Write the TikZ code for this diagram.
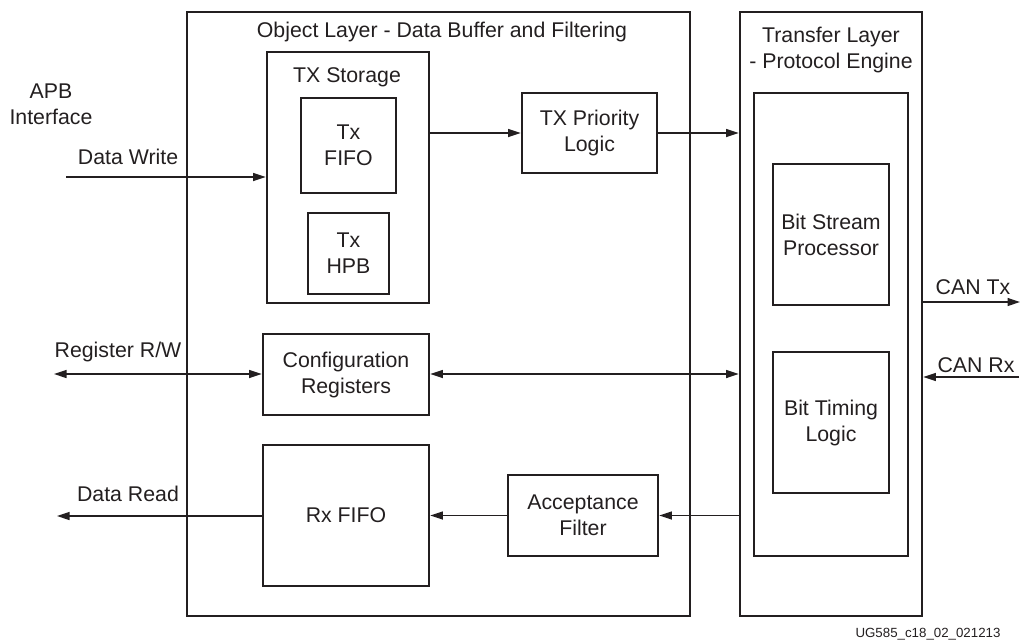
\documentclass[tikz,border=0pt]{standalone}
\usepackage{fontspec}
\setmainfont{Liberation Sans}
\usetikzlibrary{arrows.meta}
\definecolor{ink}{HTML}{231F20}
\begin{document}
\begin{tikzpicture}[x=1pt,y=-1pt,
  box/.style={draw=ink,line width=2.6pt,inner sep=0pt,align=center,text=ink},
  lbl/.style={inner sep=0pt,align=center,text=ink},
  conn/.style={draw=ink,line width=1.25pt},
  tip/.style={-{Triangle[length=12.5pt,width=8pt]}},
  tips/.style={{Triangle[length=12.5pt,width=8pt]}-{Triangle[length=12.5pt,width=8pt]}},
  every node/.style={font=\fontsize{21.3}{26}\selectfont}]
\useasboundingbox (0,0) rectangle (1021,641);
% containers
\node[box,minimum width=503pt,minimum height=604pt] (obj) at (438.5,314) {};
\node[box,minimum width=182pt,minimum height=604pt] (trans) at (831,314) {};
\node[box,minimum width=154pt,minimum height=463pt] (pe) at (831,324.5) {};
\node[box,minimum width=162pt,minimum height=251pt] (txs) at (348,177.5) {};
% titles
\node[lbl] (objt) at (442,32) {Object Layer - Data Buffer and Filtering};
\node[lbl] (transt) at (831,50) {Transfer Layer\\- Protocol Engine};
\node[lbl] (txst) at (347,77) {TX Storage};
% blocks
\node[box,minimum width=95pt,minimum height=95pt] (txfifo) at (348.5,145.5) {Tx\\FIFO};
\node[box,minimum width=81pt,minimum height=81pt] (hpb) at (348.5,253.5) {Tx\\HPB};
\node[box,minimum width=135pt,minimum height=80pt] (txpri) at (589.5,133) {TX Priority\\Logic};
\node[box,minimum width=116pt,minimum height=141pt] (bsp) at (831,234.5) {Bit Stream\\Processor};
\node[box,minimum width=116pt,minimum height=141pt] (btl) at (831,422.5) {Bit Timing\\Logic};
\node[box,minimum width=166pt,minimum height=81pt] (cfg) at (346,374.5) {Configuration\\Registers};
\node[box,minimum width=166pt,minimum height=141pt] (rxf) at (346,515.5) {Rx FIFO};
\node[box,minimum width=150pt,minimum height=81pt] (acc) at (583,515.5) {Acceptance\\Filter};
% outside labels
\node[lbl] (apb) at (51,104) {APB\\Interface};
\node[lbl] (dwl) at (128,157) {Data Write};
\node[lbl] (rwl) at (118,352) {Register R/W};
\node[lbl] (drl) at (128,494) {Data Read};
\node[lbl] (ctxl) at (973,287) {CAN Tx};
\node[lbl] (crxl) at (976,365) {CAN Rx};
\node[lbl,font=\fontsize{13.3}{15}\selectfont] (ug) at (928,634) {UG585\_c18\_02\_021213};
% free ends
\coordinate (dw) at (66,177);
\coordinate (rw) at (54,374);
\coordinate (dr) at (57,516);
\coordinate (ctx) at (1020,302);
\coordinate (crx) at (1019,377);
% connectors
\draw[conn,tip] (dw) -- (dw -| txs.west);
\draw[conn,tip] (txs.east |- txpri.west) -- (txpri.west);
\draw[conn,tip] (txpri.east) -- (txpri.east -| trans.west);
\draw[conn,tips] (rw) -- (rw -| cfg.west);
\draw[conn,tips] (cfg.east |- rw) -- (rw -| trans.west);
\draw[conn,tip] (acc.east -| trans.west) -- (acc.east);
\draw[conn,tip] (acc.west) -- (rxf.east |- acc.west);
\draw[conn,tip] (rxf.west |- dr) -- (dr);
\draw[conn,tip] (ctx -| trans.east) -- (ctx);
\draw[conn,tip] (crx) -- (crx -| trans.east);
\end{tikzpicture}
\end{document}
